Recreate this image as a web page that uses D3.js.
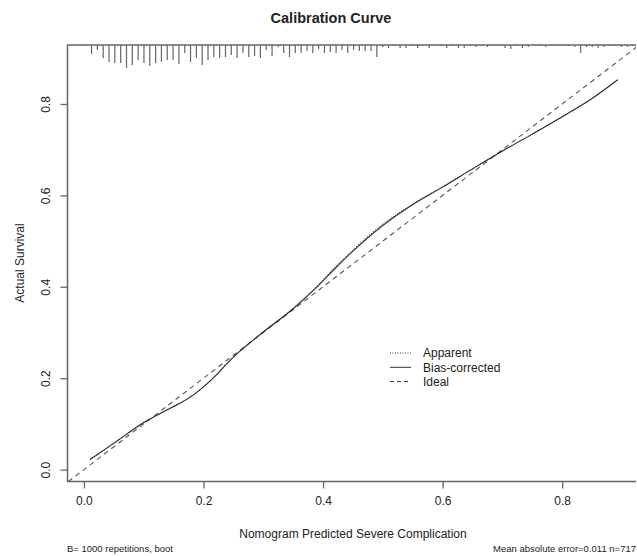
<!DOCTYPE html>
<html>
<head>
<meta charset="utf-8">
<script src="https://cdn.jsdelivr.net/npm/d3@7"></script>
<style>
  body { margin: 0; background: #fff; }
  text { font-family: "Liberation Sans", Arial, sans-serif; fill: #222; }
</style>
</head>
<body>
<div class="canvas"></div>
<script>
// calibration curve points (predicted vs observed)
const predicted = [0.01, 0.05, 0.10, 0.15, 0.17, 0.19, 0.22, 0.24, 0.26, 0.28, 0.30, 0.35, 0.39, 0.42, 0.45, 0.50, 0.55, 0.60, 0.65, 0.70, 0.75, 0.80, 0.85, 0.893];
const biasCorrected = [0.022, 0.058, 0.103, 0.138, 0.152, 0.170, 0.205, 0.233, 0.258, 0.280, 0.301, 0.352, 0.400, 0.440, 0.478, 0.534, 0.580, 0.618, 0.658, 0.697, 0.734, 0.772, 0.812, 0.853];
const apparent = [0.021, 0.057, 0.102, 0.139, 0.153, 0.171, 0.206, 0.234, 0.258, 0.280, 0.302, 0.353, 0.402, 0.443, 0.481, 0.537, 0.581, 0.619, 0.658, 0.697, 0.734, 0.772, 0.812, 0.853];

// rug of predicted values along the top (frequencies per bin)
const rugCounts = [1, 9, 5, 13, 17, 18, 18, 23, 20, 15, 18, 21, 18, 17, 15, 15, 19, 8, 17, 13,
  20, 15, 12, 13, 12, 10, 13, 8, 12, 11, 13, 5, 11, 2, 8, 12, 8, 8, 6, 8,
  4, 8, 7, 8, 5, 8, 5,
  6, 6, 6, 12, 2, 3, 1, 3, 3, 1, 3, 1, 3, 0, 1, 3, 1, 3, 3, 1, 2, 1, 2, 1,
  1, 3, 4, 1, 3, 2, 1, 1, 2, 1, 1, 1, 1, 2, 8, 2, 2, 3, 2, 1, 1, 2, 2, 1];
const rugX = rugCounts.map((c, i) => 0.003 + i * 0.00974);

const xTicks = [0, 0.2, 0.4, 0.6, 0.8];
const yTicks = [0, 0.2, 0.4, 0.6, 0.8];
const legendLabels = ['Apparent', 'Bias-corrected', 'Ideal'];

const width = 637, height = 556;
const box = {left: 67.5, right: 636, top: 45, bottom: 481.5};

const svg = d3.select('.canvas')
  .append('svg')
    .attr('width', width)
    .attr('height', height);

const x = d3.scaleLinear().domain([-0.0275, 0.9235]).range([box.left, box.right]);
const y = d3.scaleLinear().domain([-0.026, 0.929]).range([box.bottom, box.top]);

svg.append('defs').append('clipPath').attr('id', 'clip')
  .append('rect')
    .attr('x', box.left).attr('y', box.top)
    .attr('width', box.right - box.left).attr('height', box.bottom - box.top);

const lineCol = '#555';

// ideal diagonal
svg.append('line')
  .attr('clip-path', 'url(#clip)')
  .attr('x1', x(-0.05)).attr('y1', y(-0.05))
  .attr('x2', x(0.95)).attr('y2', y(0.95))
  .attr('stroke', lineCol)
  .attr('stroke-width', 1.1)
  .attr('stroke-dasharray', '5,4');

const line = d3.line()
  .x(d => x(d[0]))
  .y(d => y(d[1]))
  .curve(d3.curveMonotoneX);

svg.append('path')
  .attr('d', line(predicted.map((p, i) => [p, biasCorrected[i]])))
  .attr('fill', 'none')
  .attr('stroke', '#333')
  .attr('stroke-width', 1.1);

svg.append('path')
  .attr('d', line(predicted.map((p, i) => [p, apparent[i]])))
  .attr('fill', 'none')
  .attr('stroke', '#222')
  .attr('stroke-width', 1)
  .attr('stroke-dasharray', '1,1.5');

// rug
const rugLen = d3.scaleLinear().domain([0, 23]).range([0, 23]);
svg.append('g').selectAll('line')
  .data(rugCounts)
  .enter()
  .append('line')
    .attr('x1', (d, i) => x(rugX[i]))
    .attr('x2', (d, i) => x(rugX[i]))
    .attr('y1', box.top)
    .attr('y2', d => box.top + rugLen(d))
    .attr('stroke', '#666')
    .attr('stroke-width', 1.2);

// box: left, bottom, top
svg.append('path')
  .attr('d', `M${box.right},${box.top}H${box.left}V${box.bottom}H${box.right}`)
  .attr('fill', 'none')
  .attr('stroke', '#666')
  .attr('stroke-width', 1.5);

// axes
const xAxis = svg.append('g')
  .attr('transform', `translate(0,${box.bottom})`)
  .call(d3.axisBottom(x).tickValues(xTicks).tickFormat(d3.format('.1f')).tickSize(7).tickPadding(8));
xAxis.select('.domain').remove();
xAxis.selectAll('line').attr('stroke', '#666').attr('stroke-width', 1.3);
xAxis.selectAll('text').attr('font-size', 12).attr('fill', '#333').style('font-family', '"Liberation Sans", Arial, sans-serif');

const yAxis = svg.append('g')
  .attr('transform', `translate(${box.left},0)`)
  .call(d3.axisLeft(y).tickValues(yTicks).tickFormat(d3.format('.1f')).tickSize(7));
yAxis.select('.domain').remove();
yAxis.selectAll('line').attr('stroke', '#666').attr('stroke-width', 1.3);
yAxis.selectAll('text')
  .attr('x', null).attr('dy', null)
  .attr('text-anchor', 'middle')
  .attr('transform', 'translate(-18,0) rotate(-90)')
  .attr('font-size', 12).attr('fill', '#333')
  .style('font-family', '"Liberation Sans", Arial, sans-serif');

// titles
svg.append('text')
  .attr('x', 331).attr('y', 23)
  .attr('text-anchor', 'middle')
  .attr('font-size', 14.5)
  .attr('font-weight', 'bold')
  .text('Calibration Curve');

svg.append('text')
  .attr('x', 353).attr('y', 538)
  .attr('text-anchor', 'middle')
  .attr('font-size', 12)
  .text('Nomogram Predicted Severe Complication');

svg.append('text')
  .attr('transform', 'translate(24,263) rotate(-90)')
  .attr('text-anchor', 'middle')
  .attr('font-size', 12)
  .text('Actual Survival');

svg.append('text')
  .attr('x', 67).attr('y', 552)
  .attr('font-size', 9.5)
  .text('B= 1000 repetitions, boot');

svg.append('text')
  .attr('x', 636).attr('y', 552)
  .attr('text-anchor', 'end')
  .attr('font-size', 9.5)
  .text('Mean absolute error=0.011 n=717');

// legend
const legendDash = ['1,1.5', null, '4,3'];
const legend = svg.append('g').attr('transform', 'translate(390,353)');
legendLabels.forEach((lab, i) => {
  legend.append('line')
    .attr('x1', 0).attr('x2', 21)
    .attr('y1', i * 14.3).attr('y2', i * 14.3)
    .attr('stroke', '#333')
    .attr('stroke-width', 1)
    .attr('stroke-dasharray', legendDash[i]);
  legend.append('text')
    .attr('x', 33).attr('y', i * 14.3)
    .attr('dy', '0.35em')
    .attr('font-size', 12)
    .text(lab);
});
</script>
</body>
</html>
